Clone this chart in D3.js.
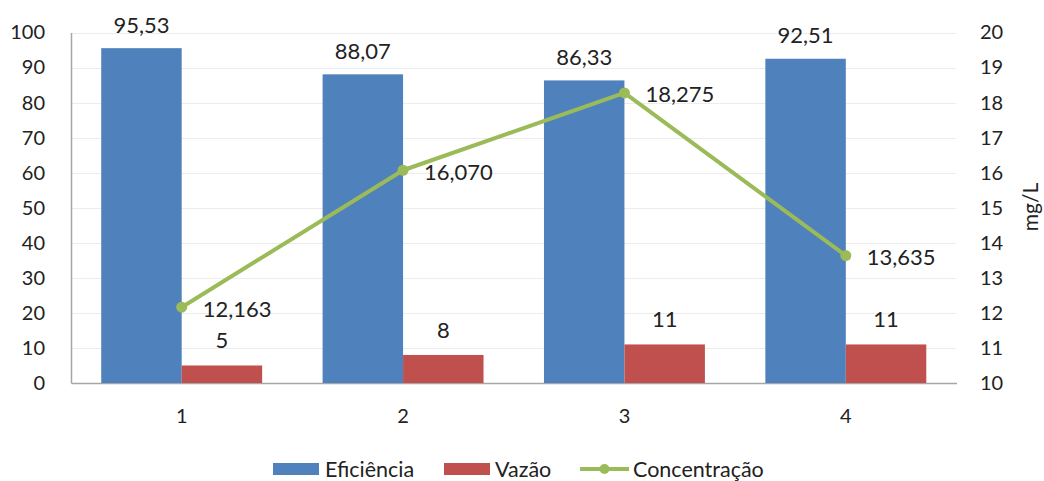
<!DOCTYPE html>
<html>
<head>
<meta charset="utf-8">
<script src="https://cdn.jsdelivr.net/npm/d3@7"></script>
<style>
  html, body { margin: 0; padding: 0; background: #fff; }
  svg { display: block; font-family: Lato, "Open Sans", sans-serif; }
</style>
</head>
<body>
<svg id="chart" width="1044" height="481"></svg>
<script>
// Data
const categories = ["1", "2", "3", "4"];
const eficiencia = [95.53, 88.07, 86.33, 92.51];
const vazao = [5, 8, 11, 11];
const concentracao = [12.163, 16.070, 18.275, 13.635];
const eficienciaLabels = ["95,53", "88,07", "86,33", "92,51"];
const vazaoLabels = ["5", "8", "11", "11"];
const concentracaoLabels = ["12,163", "16,070", "18,275", "13,635"];
const leftTicks = [0, 10, 20, 30, 40, 50, 60, 70, 80, 90, 100];
const rightTicks = [10, 11, 12, 13, 14, 15, 16, 17, 18, 19, 20];
const seriesNames = ["Eficiência", "Vazão", "Concentração"];

const colors = { blue: "#4F81BD", red: "#C0504D", green: "#9BBB59" };

const svg = d3.select("#chart");
const plot = { left: 71, right: 956.5, top: 32.5, bottom: 383 };
const tickFont = 20;
const labelFont = 22;
const legendFont = 21.5;

const x = d3.scaleBand().domain(categories).range([plot.left, plot.right]).paddingInner(0.273).paddingOuter(0.1365);
const x1 = d3.scaleBand().domain([0, 1]).range([0, x.bandwidth()]);
const yL = d3.scaleLinear().domain([0, 100]).range([plot.bottom, plot.top]);
const yR = d3.scaleLinear().domain([10, 20]).range([plot.bottom, plot.top]);

// Gridlines
svg.append("g").selectAll("line").data(leftTicks.filter(d => d > 0)).join("line")
  .attr("x1", plot.left).attr("x2", plot.right)
  .attr("y1", d => Math.round(yL(d)) + 0.5).attr("y2", d => Math.round(yL(d)) + 0.5)
  .attr("stroke", "#ececec").attr("stroke-width", 1);

// Left axis
const axL = svg.append("g").attr("transform", `translate(${plot.left},0)`)
  .call(d3.axisLeft(yL).tickValues(leftTicks).tickSize(0).tickPadding(26));
axL.select(".domain").attr("stroke", "#a6a6a6").attr("stroke-width", 1.5);
axL.selectAll("text").attr("font-size", tickFont).attr("fill", "#222").attr("font-family", "Lato, sans-serif");

// Right axis
const axR = svg.append("g").attr("transform", `translate(${plot.right},0)`)
  .call(d3.axisRight(yR).tickValues(rightTicks).tickSize(0).tickPadding(23.5));
axR.select(".domain").remove();
axR.selectAll("text").attr("font-size", tickFont).attr("fill", "#222").attr("font-family", "Lato, sans-serif");

// Bottom axis
const axB = svg.append("g").attr("transform", `translate(0,${plot.bottom})`)
  .call(d3.axisBottom(x).tickSize(0).tickPadding(26));
axB.select(".domain").attr("stroke", "#a6a6a6").attr("stroke-width", 1.5);
axB.selectAll("text").attr("font-size", tickFont).attr("fill", "#222").attr("font-family", "Lato, sans-serif");

// Right axis title
svg.append("text")
  .attr("transform", `translate(1038,207) rotate(-90)`)
  .attr("text-anchor", "middle")
  .attr("font-size", 21).attr("fill", "#222")
  .text("mg/L");

// Bars
const bars = svg.append("g");
bars.selectAll("rect.ef").data(eficiencia).join("rect")
  .attr("class", "ef")
  .attr("x", (d, i) => x(categories[i]) + x1(0))
  .attr("width", x1.bandwidth())
  .attr("y", d => yL(d)).attr("height", d => yL(0) - yL(d))
  .attr("fill", colors.blue);
bars.selectAll("rect.vz").data(vazao).join("rect")
  .attr("class", "vz")
  .attr("x", (d, i) => x(categories[i]) + x1(1))
  .attr("width", x1.bandwidth())
  .attr("y", d => yL(d)).attr("height", d => yL(0) - yL(d))
  .attr("fill", colors.red);

// Bar labels
svg.append("g").selectAll("text").data(eficiencia).join("text")
  .attr("x", (d, i) => x(categories[i]) + x1(0) + x1.bandwidth() / 2)
  .attr("y", d => yL(d) - 15.5)
  .attr("text-anchor", "middle").attr("font-size", labelFont).attr("fill", "#222")
  .text((d, i) => eficienciaLabels[i]);
svg.append("g").selectAll("text").data(vazao).join("text")
  .attr("x", (d, i) => x(categories[i]) + x1(1) + x1.bandwidth() / 2)
  .attr("y", d => yL(d) - 17)
  .attr("text-anchor", "middle").attr("font-size", labelFont).attr("fill", "#222")
  .text((d, i) => vazaoLabels[i]);

// Concentration line
const cx = (d, i) => x(categories[i]) + x.bandwidth() / 2;
const line = d3.line().x((d, i) => cx(d, i)).y(d => yR(d));
svg.append("path").datum(concentracao)
  .attr("d", line).attr("fill", "none")
  .attr("stroke", colors.green).attr("stroke-width", 4).attr("stroke-linejoin", "round");
svg.append("g").selectAll("circle").data(concentracao).join("circle")
  .attr("cx", cx).attr("cy", d => yR(d)).attr("r", 5.5)
  .attr("fill", colors.green);
svg.append("g").selectAll("text").data(concentracao).join("text")
  .attr("x", (d, i) => cx(d, i) + 21)
  .attr("y", d => yR(d) + 9.5)
  .attr("font-size", labelFont).attr("fill", "#222")
  .text((d, i) => concentracaoLabels[i]);

// Legend
const legend = svg.append("g").attr("font-size", legendFont).attr("fill", "#222");
legend.append("rect").attr("x", 273).attr("y", 463).attr("width", 46).attr("height", 12).attr("fill", colors.blue);
legend.append("text").attr("x", 325).attr("y", 477).text(seriesNames[0]);
legend.append("rect").attr("x", 444).attr("y", 463).attr("width", 46).attr("height", 12).attr("fill", colors.red);
legend.append("text").attr("x", 495).attr("y", 477).text(seriesNames[1]);
legend.append("line").attr("x1", 580).attr("x2", 629).attr("y1", 469).attr("y2", 469)
  .attr("stroke", colors.green).attr("stroke-width", 4);
legend.append("circle").attr("cx", 604.5).attr("cy", 469).attr("r", 5).attr("fill", colors.green);
legend.append("text").attr("x", 633).attr("y", 477).text(seriesNames[2]);
</script>
</body>
</html>
